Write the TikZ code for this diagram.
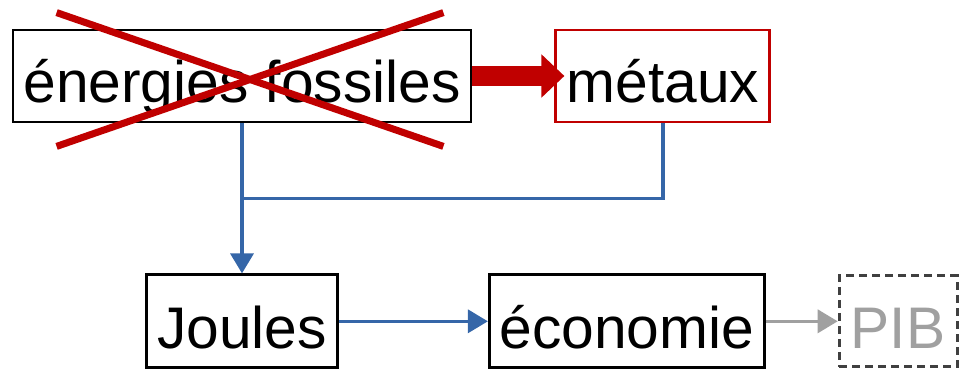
\documentclass[tikz,border=0pt]{standalone}
\usepackage{fontspec}
\setmainfont{Liberation Sans}
\usepackage{tikz}
\usetikzlibrary{arrows.meta,positioning,calc}
\definecolor{CrossRed}{HTML}{C00000}
\definecolor{FlowBlue}{HTML}{3566A8}
\definecolor{GdpGrey}{HTML}{A0A0A0}
\definecolor{DashGrey}{HTML}{404040}

\begin{document}
\begin{tikzpicture}[font=\fontsize{33.4}{40}\selectfont,
  box/.style={draw,line width=1.6pt,inner sep=0pt,minimum height=1.84cm,text height=1.08cm,text depth=0cm}]
  \useasboundingbox (0,0) rectangle (19.28,-7.4);
  \node[box,minimum width=9.16cm] (fos) at (4.84,-1.52) {énergies fossiles};
  \node[box,draw=CrossRed,minimum width=4.28cm,right=1.64cm of fos] (met) {métaux};
  \node[box,minimum width=3.82cm,minimum height=1.86cm,below=3cm of fos] (jou) {Joules};
  \node[box,minimum width=5.5cm,minimum height=1.86cm,right=2.98cm of jou] (eco) {économie};
  \node[box,draw=DashGrey,dash pattern=on 0.16cm off 0.1cm,text=GdpGrey,minimum width=2.36cm,minimum height=1.82cm,right=1.44cm of eco] (pib) {PIB};
  \coordinate (jn) at ($(fos.south)!0.5!(jou.north)$);
  % crossed out
  \draw[CrossRed,line width=4pt] ($(fos.north west)+(0.9,0.32)$) -- ($(fos.south east)+(-0.58,-0.46)$);
  \draw[CrossRed,line width=4pt] ($(fos.south west)+(0.9,-0.46)$) -- ($(fos.north east)+(-0.58,0.32)$);
  \draw[CrossRed,line width=0.4cm,-{Triangle[length=0.46cm,width=0.84cm]},shorten >=-0.2cm] (fos) -- (met);
  \draw[FlowBlue,line width=2pt,-{Triangle[length=0.4cm,width=0.46cm]}] (fos.south) -- (jou.north);
  \draw[FlowBlue,line width=2pt] (met.south) |- (jn);
  \draw[FlowBlue,line width=2pt,-{Triangle[length=0.4cm,width=0.46cm]}] (jou) -- (eco);
  \draw[GdpGrey,line width=2pt,-{Triangle[length=0.4cm,width=0.46cm]}] (eco) -- (pib);
\end{tikzpicture}
\end{document}
